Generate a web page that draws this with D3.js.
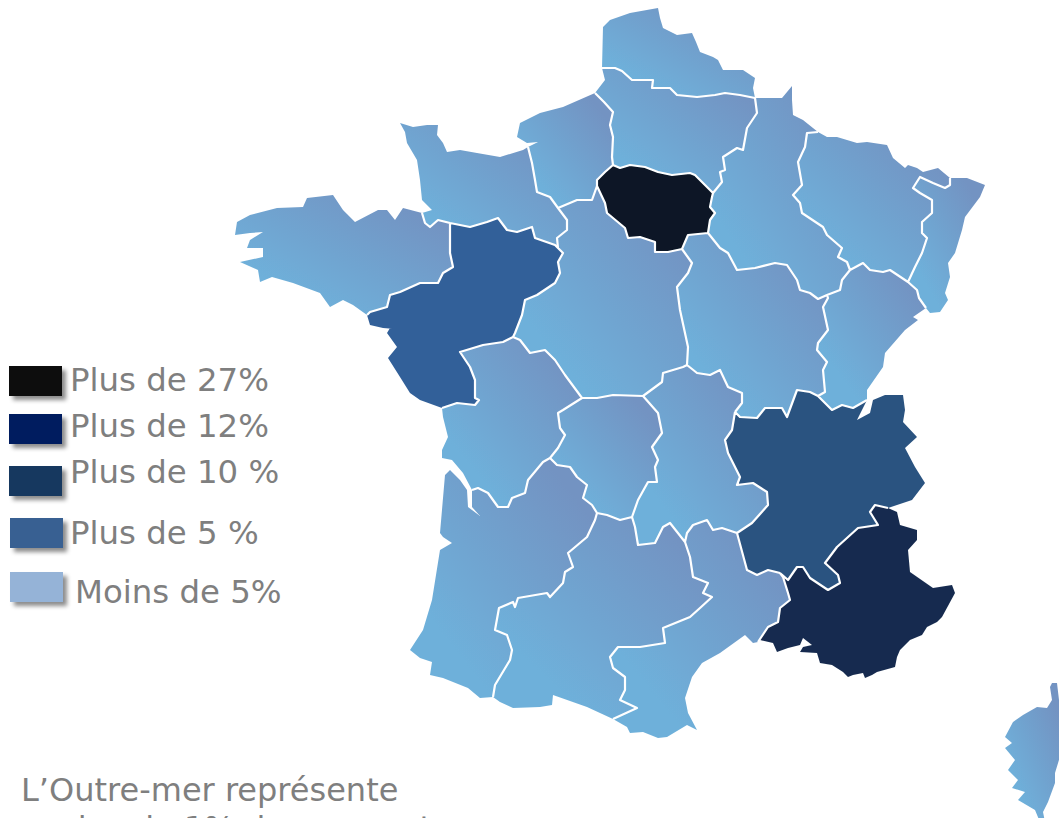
<!DOCTYPE html>
<html>
<head>
<meta charset="utf-8">
<script src="https://cdn.jsdelivr.net/npm/d3@7"></script>
<style>
    html, body { margin: 0; padding: 0; background: #fff; overflow: hidden; }
    text { font-family: "DejaVu Sans", Verdana, sans-serif; fill: #7f7f7f; }
</style>
</head>
<body>
<div class="chart"></div>
<script>
const width = 1059;
const height = 818;

                                         // DATA //
// legend
const legendLabels = ["Plus de 27%", "Plus de 12%", "Plus de 10 %", "Plus de 5 %", "Moins de 5%"];
const legendColors = ["#0d0d0d", "#001f5e", "#17375e", "#376092", "#95b3d7"];
const noteLines = ["L’Outre-mer représente", "moins de 1% des concerts"];

const regionNames = ["Nord", "Picardie", "Haute-Normandie", "Basse-Normandie", "Bretagne", "Pays de la Loire",
    "Centre", "Île-de-France", "Champagne-Ardenne", "Lorraine", "Alsace", "Franche-Comté", "Bourgogne",
    "Poitou-Charentes", "Limousin", "Auvergne", "Rhône-Alpes", "PACA", "Languedoc-Roussillon",
    "Midi-Pyrénées", "Aquitaine", "Corse"];
const regionClass = ["Moins de 5%", "Moins de 5%", "Moins de 5%", "Moins de 5%", "Moins de 5%", "Plus de 5 %",
    "Moins de 5%", "Plus de 27%", "Moins de 5%", "Moins de 5%", "Moins de 5%", "Moins de 5%", "Moins de 5%",
    "Moins de 5%", "Moins de 5%", "Moins de 5%", "Plus de 10 %", "Plus de 12%", "Moins de 5%",
    "Moins de 5%", "Moins de 5%", "Moins de 5%"];

// map shades are not quite the legend ones
const mapColors = ["#071625", "#172c4f", "#2b5380", "#326099", "url(#light)"];

// traced outlines, one list per stretch of border/coast, shared between neighbours
const outlines = {
    nord_coast: [[602,68],[603,27],[610,20],[630,13],[658,8],[660,18],[663,28],[677,35],[692,33],[696,42],[700,52],[713,57],[718,60],[723,70],[743,70],[755,78],[753,88],[755,98]],
    nord_pic: [[602,68],[615,68],[622,71],[632,80],[653,80],[652,88],[670,88],[677,95],[697,97],[715,95],[725,93],[740,95],[755,98]],
    pic_coast: [[602,68],[605,80],[595,93]],
    pic_hn: [[595,93],[604,102],[613,112],[610,125],[613,137],[612,157],[613,165]],
    pic_idf: [[613,165],[620,168],[630,165],[645,167],[658,172],[672,175],[690,173],[695,175],[705,185],[713,193]],
    pic_champ: [[755,98],[757,113],[747,128],[743,150],[737,148],[723,157],[725,170],[720,172],[722,182],[713,193]],
    champ_idf: [[713,193],[712,197],[710,207],[715,213],[710,220],[708,233]],
    champ_bourg: [[708,233],[720,248],[728,253],[737,270],[755,268],[775,263],[787,265],[797,280],[800,290],[810,293],[818,299],[827,295]],
    idf_bourg: [[708,233],[688,235],[682,249]],
    idf_centre: [[682,249],[668,252],[655,252],[655,242],[640,237],[628,238],[625,228],[607,213],[605,203],[597,186]],
    idf_hn: [[613,165],[605,172],[597,180],[597,186]],
    hn_centre: [[597,186],[592,200],[577,200],[558,208]],
    hn_coast: [[595,93],[563,107],[540,113],[520,123],[517,137],[527,143],[538,142],[528,147]],
    hn_bn: [[528,147],[532,163],[535,180],[537,192],[550,197],[558,208]],
    bn_coast: [[528,147],[523,150],[500,157],[477,153],[460,150],[447,152],[443,143],[437,135],[438,125],[427,125],[413,127],[400,123],[405,132],[407,143],[417,160],[420,180],[422,200],[432,210],[422,213]],
    bn_bret: [[422,213],[425,223],[430,227],[438,220],[450,223]],
    bn_pdl: [[450,223],[470,227],[487,222],[498,218],[507,230],[517,232],[532,227],[535,238],[555,245],[558,248]],
    bn_centre: [[558,208],[567,220],[567,230],[557,238],[558,248]],
    bret_coast: [[422,213],[403,208],[395,220],[387,210],[378,210],[355,222],[343,210],[333,195],[307,198],[303,207],[277,208],[250,215],[237,222],[235,235],[250,233],[263,232],[250,240],[247,248],[263,248],[263,257],[240,262],[258,270],[260,282],[272,277],[293,283],[320,293],[330,307],[343,300],[353,305],[367,315]],
    bret_pdl: [[450,223],[450,253],[453,267],[443,273],[438,283],[420,283],[400,292],[390,295],[387,307],[370,312],[367,315]],
    pdl_centre: [[558,248],[563,253],[558,262],[560,273],[555,283],[537,295],[525,300],[522,315],[515,333],[513,337]],
    pdl_coast: [[367,315],[370,325],[383,328],[407,330],[390,328],[387,333],[397,347],[388,358],[400,377],[410,393],[420,400],[442,408]],
    pdl_poit: [[442,408],[457,403],[475,405],[479,400],[475,398],[475,380],[470,367],[460,352],[483,345],[503,342],[513,337]],
    poit_centre: [[513,337],[520,340],[530,353],[545,350],[555,360],[565,375],[582,398]],
    poit_lim: [[582,398],[563,410],[558,413],[560,428],[565,435],[558,448],[550,458]],
    poit_aq: [[550,458],[543,462],[528,480],[525,493],[512,498],[508,507],[498,507],[488,493],[478,488],[472,490]],
    poit_coast: [[442,408],[443,417],[448,437],[442,450],[442,458],[452,460],[463,473],[472,490]],
    aq_coast: [[472,490],[472,507],[480,516],[468,507],[467,490],[460,480],[450,470],[445,475],[440,533],[443,537],[452,543],[440,550],[432,600],[423,630],[410,650],[420,658],[432,662],[430,675],[443,678],[468,688],[480,698],[493,697]],
    aq_lim: [[550,458],[557,465],[570,467],[577,477],[587,485],[583,498],[592,505],[597,513]],
    aq_midi: [[493,697],[495,685],[510,660],[512,650],[507,635],[495,630],[499,608],[513,602],[515,607],[518,598],[547,593],[550,597],[563,583],[565,572],[573,567],[568,553],[587,537],[595,520],[597,513]],
    lim_midi: [[597,513],[607,515],[620,520],[632,517]],
    lim_centre: [[582,398],[597,398],[613,395],[643,396]],
    lim_auv: [[643,396],[658,413],[662,433],[652,447],[658,460],[655,467],[657,482],[648,482],[638,500],[632,517]],
    auv_centre: [[643,396],[662,382],[663,373],[683,367],[687,365]],
    auv_bourg: [[687,365],[697,373],[710,375],[720,370],[728,387],[742,393],[742,403],[735,412]],
    auv_ra: [[735,412],[732,430],[725,440],[728,453],[740,477],[737,485],[753,483],[767,492],[768,505],[752,523],[737,533]],
    auv_lang: [[737,533],[722,528],[713,530],[707,520],[693,525],[687,533],[685,542]],
    auv_midi: [[685,542],[670,523],[663,527],[655,543],[638,545],[635,527],[632,517]],
    midi_lang: [[685,542],[690,557],[693,577],[708,583],[703,593],[712,597],[700,608],[690,617],[663,628],[665,643],[640,647],[618,647],[610,657],[613,668],[625,677],[625,690],[620,700],[637,708],[613,719]],
    midi_coast: [[493,697],[500,702],[513,708],[540,707],[552,705],[553,695],[587,707],[613,719]],
    lang_coast: [[613,719],[627,727],[630,733],[643,732],[658,738],[667,737],[687,725],[697,730],[688,713],[685,698],[692,677],[702,663],[720,653],[745,635],[753,643],[758,642]],
    lang_paca: [[758,642],[768,627],[778,622],[780,608],[790,600],[788,593],[783,577],[780,573]],
    lang_ra: [[737,533],[747,570],[757,575],[768,570],[780,573]],
    ra_paca: [[780,573],[788,580],[797,567],[803,567],[810,578],[828,590],[840,583],[838,575],[825,563],[837,547],[858,528],[878,525],[870,512],[875,505],[888,508]],
    paca_coast: [[888,508],[897,512],[900,525],[917,530],[917,540],[908,550],[910,572],[933,588],[952,585],[955,593],[942,617],[937,622],[927,627],[922,635],[910,640],[900,650],[897,657],[895,667],[877,672],[872,675],[865,678],[863,673],[853,675],[848,677],[843,672],[832,665],[820,663],[817,653],[800,652],[803,647],[812,645],[803,638],[800,645],[788,648],[777,652],[773,643],[760,640],[758,642]],
    ra_coast: [[867,400],[857,420],[870,413],[873,400],[885,395],[903,395],[905,410],[903,422],[917,437],[905,448],[915,467],[925,483],[912,500],[897,505],[888,508]],
    ra_bourg: [[735,412],[740,417],[757,418],[765,408],[782,408],[787,417],[797,390],[810,392],[818,396]],
    ra_fc: [[818,396],[832,410],[842,405],[853,408],[867,400]],
    bourg_fc: [[818,396],[825,392],[823,370],[827,362],[817,350],[818,343],[828,330],[823,307],[828,298],[827,295]],
    centre_bourg: [[687,365],[688,347],[680,310],[677,287],[688,273],[692,263],[682,249]],
    champ_fc: [[827,295],[840,290],[842,280],[850,270]],
    champ_lor: [[850,270],[847,262],[838,257],[842,248],[827,235],[823,227],[802,213],[800,203],[793,195],[802,185],[798,162],[805,147],[807,133],[818,132]],
    champ_coast: [[755,98],[782,98],[792,86],[792,100],[793,115],[803,120],[818,132]],
    lor_coast: [[818,132],[827,137],[837,137],[857,143],[867,142],[887,145],[893,158],[905,168],[908,165],[917,168],[923,172],[938,168],[950,178]],
    lor_als: [[950,178],[950,185],[945,188],[933,183],[920,177],[913,188],[920,193],[932,200],[932,213],[922,222],[922,233],[927,238],[922,253],[915,267],[908,282]],
    als_coast: [[950,178],[967,178],[985,185],[980,197],[965,217],[962,230],[955,253],[948,263],[950,277],[945,293],[948,300],[940,312],[930,313],[926,308]],
    als_fc: [[908,282],[917,290],[919,298],[926,308]],
    fc_lor: [[850,270],[863,263],[870,270],[883,272],[890,270],[908,282]],
    fc_coast: [[926,308],[913,317],[918,320],[905,330],[885,353],[883,367],[867,390],[867,400]],
    corse: [[1052,683],[1057,683],[1059,700],[1062,715],[1062,750],[1055,773],[1055,783],[1048,802],[1043,812],[1045,822],[1040,822],[1035,810],[1018,800],[1025,792],[1012,788],[1018,780],[1008,770],[1015,760],[1005,748],[1012,743],[1005,737],[1013,722],[1023,715],[1037,707],[1047,708],[1052,700],[1050,687],[1052,683]]
};

// which stretches close each region, same order as regionNames
const regionRings = [
    ["nord_coast","nord_pic"],
    ["nord_pic","pic_champ","pic_idf","pic_hn","pic_coast"],
    ["hn_coast","hn_bn","hn_centre","idf_hn","pic_hn"],
    ["bn_coast","bn_bret","bn_pdl","bn_centre","hn_bn"],
    ["bret_coast","bret_pdl","bn_bret"],
    ["bret_pdl","pdl_coast","pdl_poit","pdl_centre","bn_pdl"],
    ["hn_centre","bn_centre","pdl_centre","poit_centre","lim_centre","auv_centre","centre_bourg","idf_centre"],
    ["pic_idf","champ_idf","idf_bourg","idf_centre","idf_hn"],
    ["champ_coast","champ_lor","champ_fc","champ_bourg","champ_idf","pic_champ"],
    ["lor_coast","lor_als","fc_lor","champ_lor"],
    ["als_coast","als_fc","lor_als"],
    ["fc_lor","als_fc","fc_coast","ra_fc","bourg_fc","champ_fc"],
    ["idf_bourg","centre_bourg","auv_bourg","ra_bourg","bourg_fc","champ_bourg"],
    ["pdl_poit","poit_centre","poit_lim","poit_aq","poit_coast"],
    ["poit_lim","aq_lim","lim_midi","lim_auv","lim_centre"],
    ["auv_centre","auv_bourg","auv_ra","auv_lang","auv_midi","lim_auv"],
    ["ra_bourg","ra_fc","ra_coast","ra_paca","lang_ra","auv_ra"],
    ["ra_paca","paca_coast","lang_paca"],
    ["lang_ra","lang_paca","lang_coast","midi_lang","auv_lang"],
    ["aq_midi","lim_midi","auv_midi","midi_lang","midi_coast"],
    ["aq_coast","aq_midi","aq_lim","poit_aq"],
    ["corse"]
];

                                         // CREATE SVG ELEMENTS //
const svg = d3
    .select(".chart")
    .append("svg")
    .attr("width", width)
    .attr("height", height)
    .attr("viewBox", [0,0,width,height])
    .style("display", "block");

const defs = svg.append("defs");

// the light regions all fade from bottom-left to top-right
const light = defs.append("linearGradient")
    .attr("id", "light")
    .attr("x1", 0.1).attr("y1", 0.9)
    .attr("x2", 0.9).attr("y2", 0.1);
light.append("stop").attr("offset", "0.15").attr("stop-color", "#6eb0da");
light.append("stop").attr("offset", "0.95").attr("stop-color", "#7393c2");

defs.append("filter")
    .attr("id", "shadow")
    .attr("x", "-20%").attr("y", "-20%")
    .attr("width", "150%").attr("height", "170%")
    .append("feDropShadow")
    .attr("dx", 4).attr("dy", 4)
    .attr("stdDeviation", 2)
    .attr("flood-color", "#000")
    .attr("flood-opacity", 0.45);

// the source map is a soft image, take the hard edge off
defs.append("filter")
    .attr("id", "soft")
    .append("feGaussianBlur")
    .attr("stdDeviation", 0.5);

                                         // CREATE A MAP //
const sameEnd = (a, b) => a[0] === b[0] && a[1] === b[1];

// chain the stretches of a region into one closed ring
function buildRing(names) {
    if (names.length === 1) return outlines[names[0]];
    let first = outlines[names[0]];
    const next = outlines[names[1]];
    const startsOk = sameEnd(first[first.length-1], next[0]) || sameEnd(first[first.length-1], next[next.length-1]);
    let ring = startsOk ? first.slice() : first.slice().reverse();
    names.slice(1).forEach(n => {
        const pts = outlines[n];
        const end = ring[ring.length-1];
        ring = ring.concat(sameEnd(end, pts[0]) ? pts.slice(1) : pts.slice().reverse().slice(1));
    });
    return ring;
}

const regions = regionNames.map((name, i) => ({
    type: "Feature",
    properties: { name: name, cls: regionClass[i] },
    geometry: { type: "Polygon", coordinates: [buildRing(regionRings[i])] }
}));

// outlines used by two regions are the inner borders
const useCount = d3.rollup(regionRings.flat(), v => v.length, d => d);
const innerBorders = {
    type: "MultiLineString",
    coordinates: Object.keys(outlines).filter(k => useCount.get(k) === 2).map(k => outlines[k])
};

const path = d3.geoPath().projection(d3.geoIdentity());
const color = d3.scaleOrdinal().domain(legendLabels).range(mapColors);

const map = svg.append("g").attr("filter", "url(#soft)");

map.append("g")
    .selectAll("path")
    .data(regions)
    .join("path")
    .attr("d", path)
    .attr("fill", d => color(d.properties.cls))
    .append("title")
    .text(d => d.properties.name);

map.append("path")
    .datum(innerBorders)
    .attr("d", path)
    .attr("fill", "none")
    .attr("stroke", "#fff")
    .attr("stroke-width", 2.2)
    .attr("stroke-linejoin", "round");

                                         // LEGEND //
const swatchX = d3.scaleOrdinal().domain(legendLabels).range([9,9,9,10,10]);
const swatchY = d3.scaleOrdinal().domain(legendLabels).range([366,414,466,518,572]);
const labelX = d3.scaleOrdinal().domain(legendLabels).range([70,70,70,70,75]);
const labelY = d3.scaleOrdinal().domain(legendLabels).range([391,437,483,544,603]);

const legend = svg.append("g");
legend.selectAll("rect")
    .data(legendLabels)
    .join("rect")
    .attr("x", d => swatchX(d))
    .attr("y", d => swatchY(d))
    .attr("width", 53)
    .attr("height", 30)
    .attr("fill", (d,i) => legendColors[i])
    .attr("filter", "url(#shadow)");
legend.selectAll("text")
    .data(legendLabels)
    .join("text")
    .attr("x", d => labelX(d))
    .attr("y", d => labelY(d))
    .attr("font-size", 32.4)
    .text(d => d);

                                         // NOTE //
svg.selectAll(".note")
    .data(noteLines)
    .join("text")
    .attr("class", "note")
    .attr("x", (d,i) => i === 0 ? 21 : 27)
    .attr("y", (d,i) => i === 0 ? 801 : 839)
    .attr("font-size", 32)
    .text(d => d);
</script>
</body>
</html>
